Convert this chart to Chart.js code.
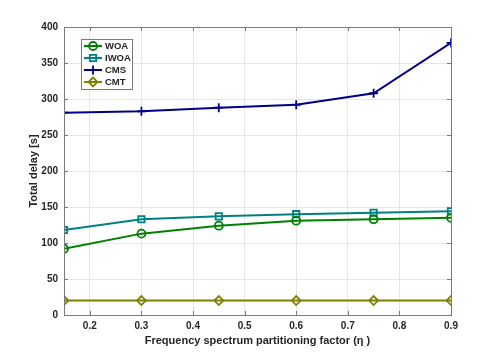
<!DOCTYPE html>
<html>
<head>
<meta charset="utf-8">
<script src="https://cdn.jsdelivr.net/npm/chart.js@4.4.1/dist/chart.umd.min.js"></script>
<style>
  html, body { margin: 0; padding: 0; background: #fff; }
  #wrap { width: 498px; height: 354px; }
</style>
</head>
<body>
<div id="wrap"><canvas id="delayChart"></canvas></div>
<script>
const etaValues = [0.15, 0.3, 0.45, 0.6, 0.75, 0.9];
const woa = [92, 113, 124, 131, 133, 135];
const iwoa = [118, 133, 137, 140, 142, 144];
const cms = [281, 283, 288, 292, 308, 378];
const cmt = [20, 20, 20, 20, 20, 20];
const xTicks = [0.2, 0.3, 0.4, 0.5, 0.6, 0.7, 0.8, 0.9];
const yTicks = [0, 50, 100, 150, 200, 250, 300, 350, 400];

const fontFamily = "'Liberation Sans', Arial, sans-serif";

function toPoints(vals) {
  return etaValues.map((x, i) => ({ x: x, y: vals[i] }));
}

function series(label, vals, color, style, radius) {
  return {
    label: label,
    data: toPoints(vals),
    borderColor: color,
    backgroundColor: color,
    borderWidth: 2,
    pointStyle: style,
    pointRadius: radius,
    pointBorderWidth: 1.8,
    pointBackgroundColor: "rgba(0,0,0,0)",
    pointBorderColor: color,
    tension: 0,
  };
}

// box around plot + inward tick marks, like the matlab axes
const boxPlugin = {
  id: "box",
  afterDraw(chart) {
    const { ctx, chartArea: a, scales } = chart;
    ctx.save();
    ctx.strokeStyle = "#7a7a7a";
    ctx.lineWidth = 1;
    ctx.strokeRect(a.left + 0.5, a.top + 0.5, a.right - a.left, a.bottom - a.top);
    ctx.beginPath();
    xTicks.forEach((v) => {
      const px = Math.round(scales.x.getPixelForValue(v)) + 0.5;
      ctx.moveTo(px, a.bottom); ctx.lineTo(px, a.bottom - 4);
      ctx.moveTo(px, a.top); ctx.lineTo(px, a.top + 4);
    });
    yTicks.forEach((v) => {
      const py = Math.round(scales.y.getPixelForValue(v)) + 0.5;
      ctx.moveTo(a.left, py); ctx.lineTo(a.left + 4, py);
      ctx.moveTo(a.right, py); ctx.lineTo(a.right - 4, py);
    });
    ctx.stroke();
    ctx.restore();
  },
};

// legend inside the plot, top-left
const legendBoxPlugin = {
  id: "legendBox",
  afterDraw(chart) {
    const { ctx, chartArea: a } = chart;
    const x0 = a.left + 17, y0 = a.top + 12;
    const w = 51, h = 50;
    ctx.save();
    ctx.fillStyle = "#fff";
    ctx.fillRect(x0, y0, w, h);
    ctx.strokeStyle = "#7a7a7a";
    ctx.lineWidth = 1;
    ctx.strokeRect(x0 + 0.5, y0 + 0.5, w, h);
    chart.data.datasets.forEach((ds, i) => {
      const y = y0 + 7 + i * 12;
      ctx.strokeStyle = ds.borderColor;
      ctx.lineWidth = 2;
      ctx.beginPath();
      ctx.moveTo(x0 + 3, y); ctx.lineTo(x0 + 21, y);
      ctx.stroke();
      ctx.fillStyle = "rgba(255,255,255,0)";
      ctx.lineWidth = 1.8;
      Chart.helpers.drawPoint(ctx, {
        pointStyle: ds.pointStyle, radius: ds.pointRadius, rotation: 0, borderWidth: 1.8,
      }, x0 + 12, y);
      ctx.fillStyle = "#262626";
      ctx.font = "bold 9.5px " + fontFamily;
      ctx.textBaseline = "middle";
      ctx.fillText(ds.label, x0 + 24, y + 0.5);
    });
    ctx.restore();
  },
};

new Chart(document.getElementById("delayChart"), {
  type: "line",
  data: {
    datasets: [
      series("WOA", woa, "#008000", "circle", 4),
      series("IWOA", iwoa, "#008080", "rect", 4.5),
      series("CMS", cms, "#00008b", "cross", 4.5),
      series("CMT", cmt, "#808000", "rectRot", 4.5),
    ],
  },
  options: {
    responsive: true,
    maintainAspectRatio: false,
    animation: false,
    layout: { padding: { left: 0, top: 27, right: 47, bottom: 0 } },
    scales: {
      x: {
        type: "linear",
        min: 0.15,
        max: 0.9,
        afterBuildTicks: (s) => { s.ticks = xTicks.map((v) => ({ value: v })); },
        afterFit: (s) => { s.height = 39; },
        grid: { color: "#e6e6e6", drawTicks: false },
        border: { display: false },
        ticks: {
          color: "#262626",
          padding: 5,
          maxRotation: 0,
          font: { family: fontFamily, size: 10, weight: "bold" },
          callback: (v) => v.toFixed(1),
        },
        title: {
          display: true,
          text: "Frequency spectrum partitioning factor (\u03b7 )",
          color: "#262626",
          padding: { top: 0, bottom: 6 },
          font: { family: fontFamily, size: 11, weight: "bold" },
        },
      },
      y: {
        min: 0,
        max: 400,
        afterBuildTicks: (s) => { s.ticks = yTicks.map((v) => ({ value: v })); },
        afterFit: (s) => { s.width = 64; },
        grid: { color: "#e6e6e6", drawTicks: false },
        border: { display: false },
        ticks: {
          color: "#262626",
          padding: 6,
          font: { family: fontFamily, size: 10, weight: "bold" },
        },
        title: {
          display: true,
          text: "Total delay [s]",
          color: "#262626",
          padding: { top: 27, bottom: 0 },
          font: { family: fontFamily, size: 11, weight: "bold" },
        },
      },
    },
    plugins: {
      legend: { display: false },
      tooltip: { enabled: false },
    },
  },
  plugins: [boxPlugin, legendBoxPlugin],
});
</script>
</body>
</html>
